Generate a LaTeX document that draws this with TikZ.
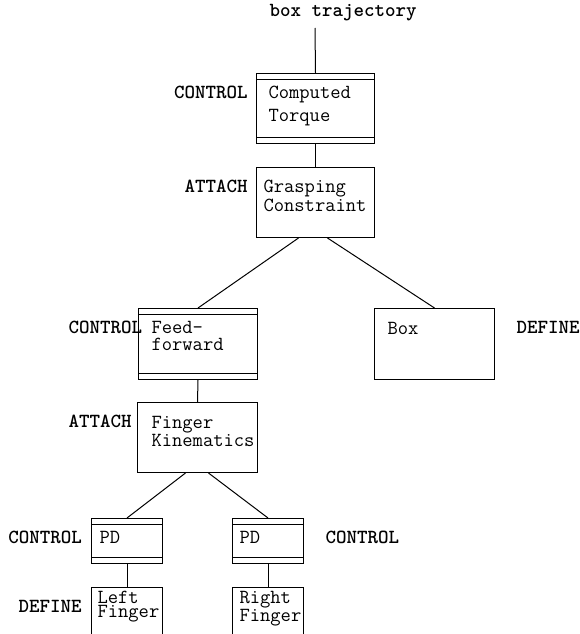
\documentclass[tikz,border=0pt]{standalone}
\begin{document}
\begin{tikzpicture}[x=1pt,y=-1pt,line width=1pt,
  unit/.style={draw, line width=1pt, inner sep=0pt},
  ctrlunit/.style={unit, path picture={
    \draw[line width=1pt]
      ([yshift=-6pt]path picture bounding box.north west) -- ([yshift=-6pt]path picture bounding box.north east)
      ([yshift=6pt]path picture bounding box.south west) -- ([yshift=6pt]path picture bounding box.south east);}},
  body/.style={font=\ttfamily\fontsize{20}{#1}\selectfont, align=left, inner sep=0pt, anchor=north west},
  body/.default=17,
  tag/.style={font=\ttfamily\bfseries\fontsize{20}{20}\selectfont, inner sep=0pt}]
\useasboundingbox (0,0) rectangle (580,634);
\clip (0,0) rectangle (580,634);

% unit boxes (corners in picture units)
\node[ctrlunit, minimum width=118pt, minimum height=70pt, anchor=north west] (ct) at (256,73) {};
\node[unit, minimum width=118pt, minimum height=70pt, anchor=north west] (gc) at (256,167) {};
\node[ctrlunit, minimum width=119pt, minimum height=71pt, anchor=north west] (ff) at (138,308) {};
\node[unit, minimum width=120pt, minimum height=71pt, anchor=north west] (bx) at (374,308) {};
\node[unit, minimum width=120pt, minimum height=70pt, anchor=north west] (fk) at (137,402) {};
\node[ctrlunit, minimum width=71pt, minimum height=45pt, anchor=north west] (pdl) at (91,518) {};
\node[ctrlunit, minimum width=71pt, minimum height=45pt, anchor=north west] (pdr) at (232,518) {};
\node[unit, minimum width=71pt, minimum height=70pt, anchor=north west] (lf) at (91,587) {};
\node[unit, minimum width=71pt, minimum height=70pt, anchor=north west] (rf) at (232,587) {};

% box contents
\node[body=23] (ctx) at (268,86) {Computed\\Torque};
\node[body] (gcx) at (263,180) {Grasping\\Constraint};
\node[body] (ffx) at (151,321) {Feed-\\forward};
\node[body] (bxx) at (387,322) {Box};
\node[body=16.5] (fkx) at (151,416) {Finger\\Kinematics};
\node[body] (pdlx) at (99,531) {PD};
\node[body] (pdrx) at (239,531) {PD};
\node[body=13.5] (lfx) at (97,591) {Left\\Finger};
\node[body=13.5] (rfx) at (239,591) {Right\\Finger};

% role tags
\node[tag, anchor=base east] (t1) at (248,98) {CONTROL};
\node[tag, anchor=base east] (t2) at (248,192) {ATTACH};
\node[tag, anchor=base west] (t3) at (68,333) {CONTROL};
\node[tag, anchor=base west] (t4) at (516,333) {DEFINE};
\node[tag, anchor=base west] (t5) at (68,427) {ATTACH};
\node[tag, anchor=base west] (t6) at (8,543) {CONTROL};
\node[tag, anchor=base west] (t7) at (325,543) {CONTROL};
\node[tag, anchor=base west] (t8) at (18,612) {DEFINE};

% input label
\node[tag, anchor=base west] (inp) at (269,17) {box trajectory};
\coordinate (inpend) at (315,28);

% connectors
\draw (inpend) -- (ct.north);
\draw (ct.south) -- (gc.north);
\draw ([xshift=-17pt]gc.south) -- (ff.north);
\draw ([xshift=12pt]gc.south) -- (bx.north);
\draw (ff.south) -- (fk.north);
\draw ([xshift=-12pt]fk.south) -- (pdl.north);
\draw ([xshift=11pt]fk.south) -- (pdr.north);
\draw (pdl.south) -- (lf.north);
\draw (pdr.south) -- (rf.north);
\end{tikzpicture}
\end{document}
